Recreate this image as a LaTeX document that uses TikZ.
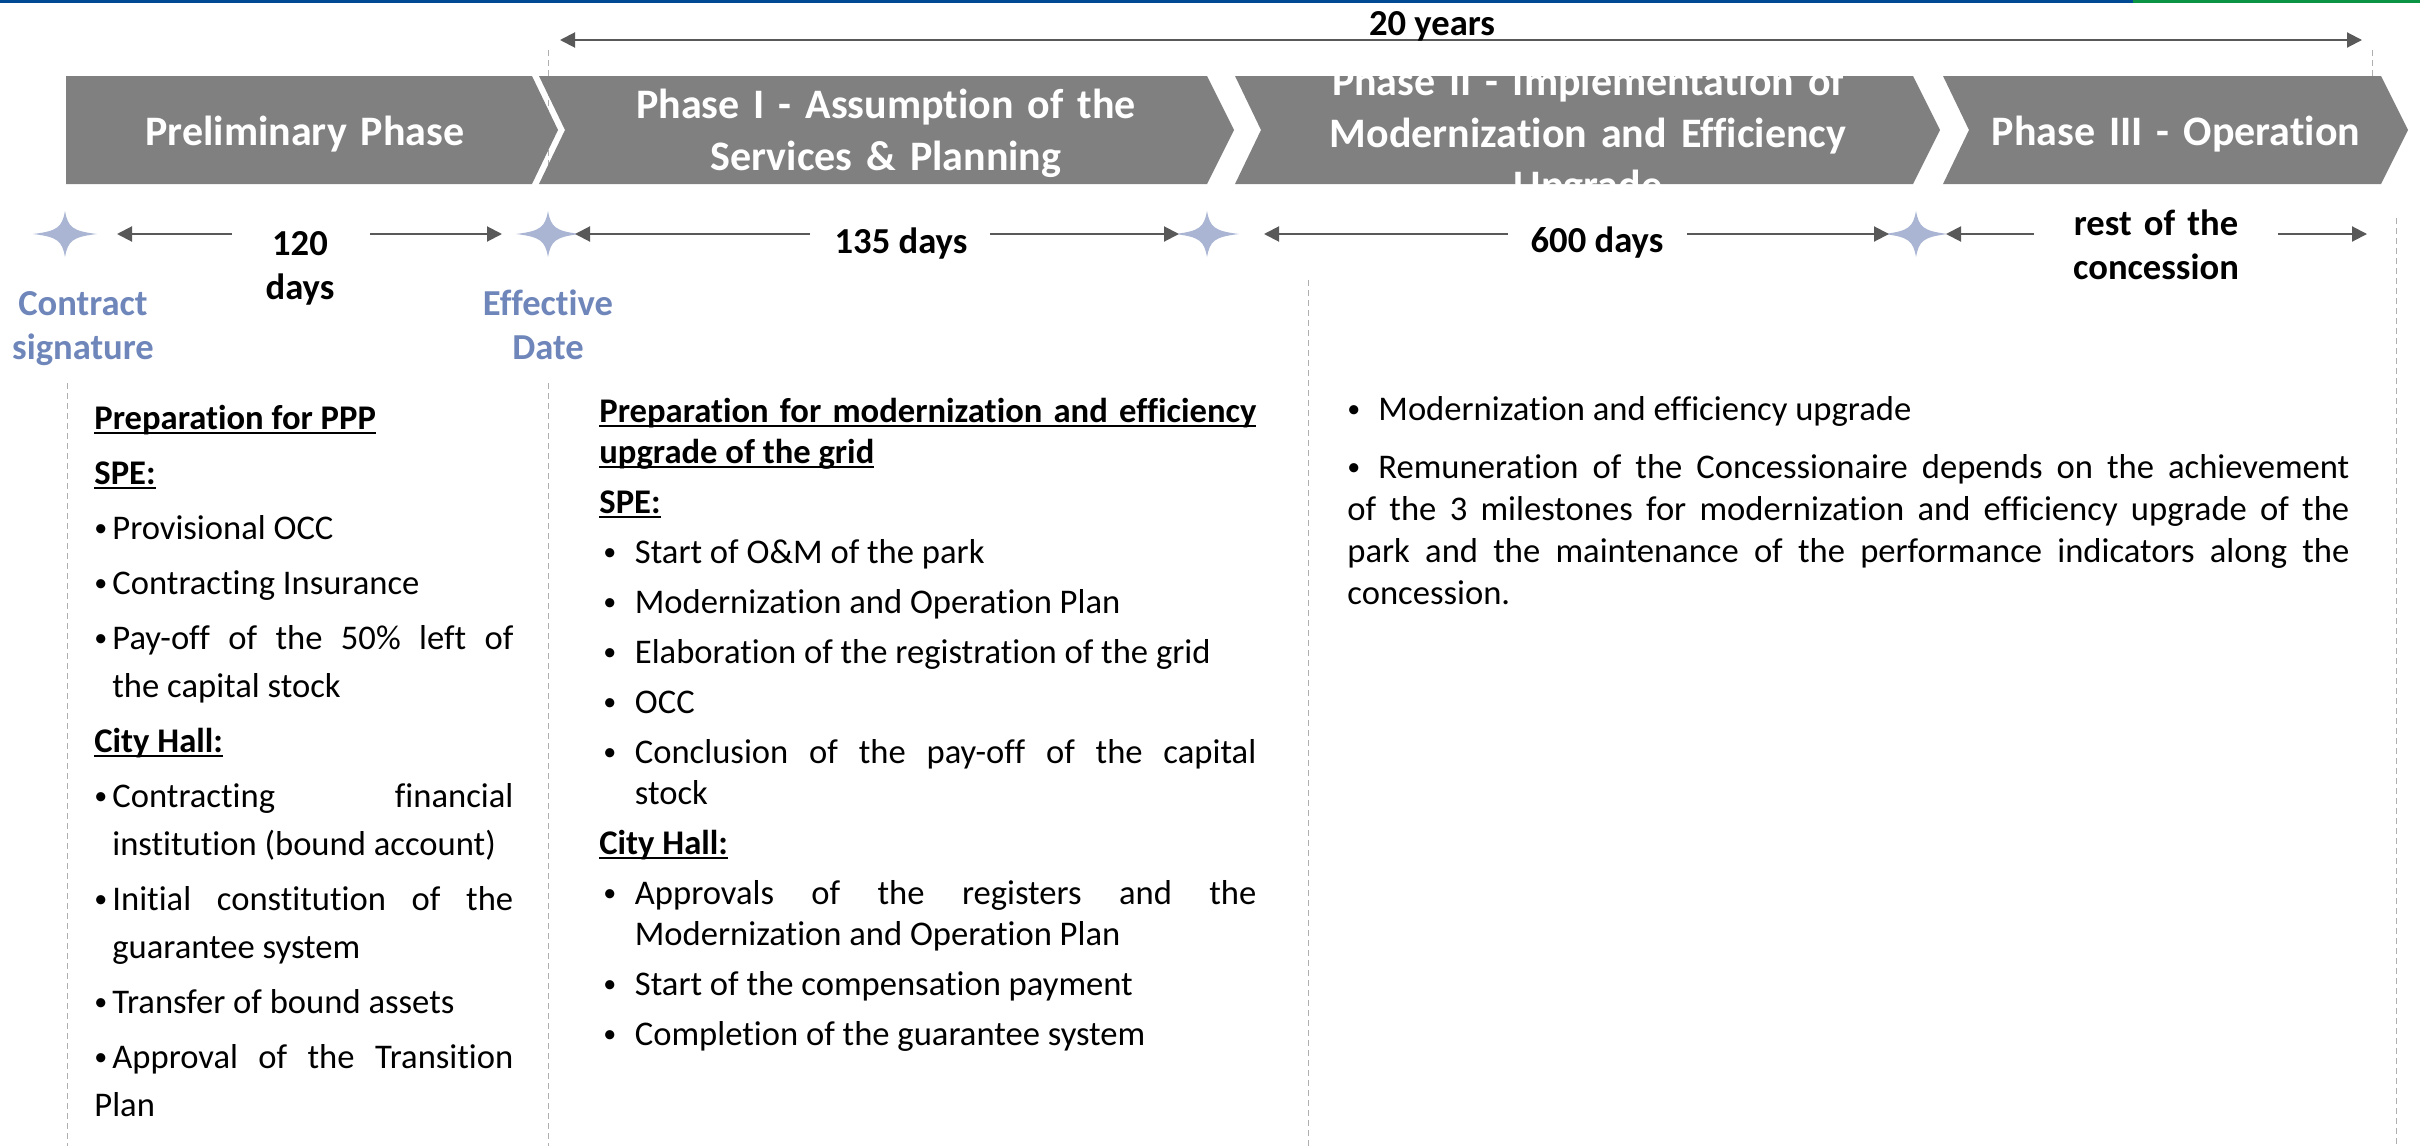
\documentclass[tikz,border=0pt]{standalone}
\usepackage{fontspec}
\setmainfont{Carlito}[Ligatures=NoCommon]
\usetikzlibrary{arrows.meta}
\definecolor{phasegray}{RGB}{128,128,128}
\definecolor{arrowgray}{RGB}{89,89,89}
\definecolor{stargray}{RGB}{170,181,212}
\definecolor{msblue}{RGB}{111,134,186}
\definecolor{dashgray}{RGB}{175,175,175}
\definecolor{barblue}{RGB}{0,74,147}
\definecolor{bargreen}{RGB}{10,148,68}
\tikzstyle{phase}=[fill=phasegray]
\tikzstyle{phasetext}=[text=white,font=\fontsize{21}{26}\selectfont\bfseries,align=center,inner sep=0,anchor=base]
\tikzstyle{days}=[font=\fontsize{18.3}{22}\selectfont\bfseries,align=center,inner sep=0,anchor=base]
\tikzstyle{mslabel}=[days,text=msblue]
\tikzstyle{listtext}=[align=justify,inner sep=0,anchor=base west]
\tikzstyle{span}=[arrowgray,line width=1pt,-{Triangle[length=7.5pt,width=7.5pt]}]
\tikzstyle{spanboth}=[span,{Triangle[length=7.5pt,width=7.5pt]}-{Triangle[length=7.5pt,width=7.5pt]}]
\tikzstyle{sep}=[dashgray,line width=0.5pt,dash pattern=on 3pt off 2pt]
\newlength\bhang
% bullet item, items are separated by blank lines
\newcommand\bul[1][0pt]{\hangindent=\bhang\hangafter=1\noindent
  \hbox to\bhang{\hskip#1\raisebox{1.3pt}{\fontsize{13}{13}\selectfont\textbullet}\hfil}\ignorespaces}
\newcommand\undl[1]{\setbox0\hbox{#1}\rlap{\rule[-2.5pt]{\wd0}{1pt}}\box0}
\hbadness=10000 \hyphenpenalty=10000 \exhyphenpenalty=10000 \tolerance=10000

\begin{document}
\begin{tikzpicture}[x=0.5pt, y=-0.5pt, >=stealth]
\useasboundingbox (0,0) rectangle (2420,1146);

% top bar
\fill[barblue] (0,0) rectangle (2133,3);
\fill[bargreen] (2133,0) rectangle (2420,3);

% dashed separators
\draw[sep] (548,50) -- (548,184);
\draw[sep] (2372,50) -- (2372,76);
\foreach \x/\y in {67/383, 548/383, 1308/280, 2396/218}
  \draw[sep] (\x,\y) -- (\x,1146);

% phases
\fill[phase] (66,76) -- (532,76) -- (558,130) -- (532,184) -- (66,184) -- cycle;
\foreach \l/\r in {539/1207, 1235/1913, 1943/2381}
  \fill[phase] (\l,76) -- (\r,76) -- ++(27,54) -- (\r,184) -- (\l,184) -- ++(26,-54) -- cycle;

\node[phasetext, text width=230pt] (phase-0) at (305,145) {Preliminary Phase};
\node[phasetext, text width=320pt] (phase-1) at (886,118) {Phase I - Assumption of the\\Services \& Planning};
\begin{scope}
  \clip (1235,76) rectangle (1940,184);
  \node[phasetext, text width=340pt] (phase-2) at (1588,95) {Phase II - Implementation of\\Modernization and Efficiency\\Upgrade};
\end{scope}
\node[phasetext, text width=220pt] (phase-3) at (2176,145) {Phase III - Operation};

% 20 years
\coordinate (span-l) at (560,40);
\coordinate (span-r) at (2362,40);
\draw[spanboth] (span-l) -- (span-r);
\node[days] (years) at (1432,35) {20 years};

% milestones
\foreach \x [count=\m from 0] in {65,548,1207,1916}
  \coordinate (ms-\m) at (\x,234);
\foreach \m in {0,...,3}
  \fill[stargray, shift={(ms-\m)}] (32,0) .. controls (7,-3) and (3,-7) .. (0,-23)
    .. controls (-3,-7) and (-7,-3) .. (-32,0) .. controls (-7,3) and (-3,7) .. (0,23)
    .. controls (3,7) and (7,3) .. (32,0) -- cycle;

\node[mslabel, text width=80pt] (ms-0-label) at (83,315) {Contract\\signature};
\node[mslabel, text width=80pt] (ms-1-label) at (548,315) {Effective\\Date};

% durations
\foreach \t/\h [count=\i] in {232/117, 370/502, 810/575, 990/1179, 1508/1264, 1687/1889, 2034/1946, 2278/2367} {
  \coordinate (tail-\i) at (\t,234);
  \coordinate (tip-\i) at (\h,234);
  \draw[span] (tail-\i) -- (tip-\i);
}
\node[days, text width=60pt] (d-120) at (300,255) {120\\days};
\node[days] (d-135) at (901,253) {135 days};
\node[days] (d-600) at (1597,252) {600 days};
\node[days, text width=100pt] (d-rest) at (2156,235) {rest of the\\concession};

% preliminary phase
\node[listtext, text width=209.5pt, font=\fontsize{17.3}{24}\selectfont] (list-0) at (94,429) {%
\setlength\parskip{3.5pt}\setlength\bhang{9pt}%
\noindent\undl{\bfseries Preparation for PPP}

\noindent\undl{\bfseries SPE:}

\bul Provisional OCC

\bul Contracting Insurance

\bul Pay-off of the 50\% left of\linebreak the capital stock

\noindent\undl{\bfseries City Hall:}

\bul Contracting financial\linebreak institution (bound account)

\bul Initial constitution of the\linebreak guarantee system

\bul Transfer of bound assets

\bul Approval of the Transition\linebreak Plan};

% phase I
\node[listtext, text width=328.5pt, font=\fontsize{17.3}{20.5}\selectfont] (list-1) at (599,422) {%
\setlength\parskip{4.5pt}\setlength\bhang{17.75pt}%
\noindent\undl{\bfseries\hbox to\linewidth{Preparation for modernization and efficiency}}\newline
\undl{\bfseries upgrade of the grid}

\noindent\undl{\bfseries SPE:}

\bul[2pt] Start of O\&M of the park

\bul[2pt] Modernization and Operation Plan

\bul[2pt] Elaboration of the registration of the grid

\bul[2pt] OCC

\bul[2pt] Conclusion of the pay-off of the capital\linebreak stock

\noindent\undl{\bfseries City Hall:}

\bul[2pt] Approvals of the registers and the\linebreak Modernization and Operation Plan

\bul[2pt] Start of the compensation payment

\bul[2pt] Completion of the guarantee system};

% phase II
\node[listtext, text width=501pt, font=\fontsize{17.3}{21}\selectfont] (list-2) at (1347,420) {%
\setlength\parskip{8pt}\setlength\bhang{15.5pt}%
\bul Modernization and efficiency upgrade

\bul Remuneration of the Concessionaire depends on the achievement\linebreak of the 3 milestones for modernization and efficiency upgrade of the\linebreak park and the maintenance of the performance indicators along the\linebreak concession.};

\end{tikzpicture}
\end{document}
